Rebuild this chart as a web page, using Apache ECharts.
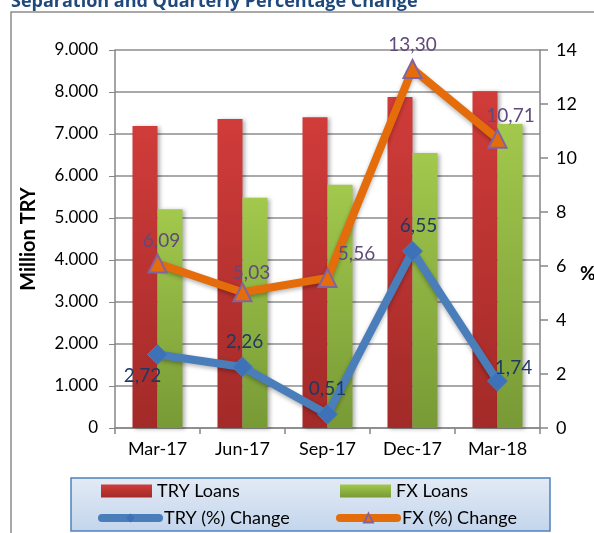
<!DOCTYPE html>
<html>
<head>
<meta charset="utf-8">
<script src="https://cdn.jsdelivr.net/npm/echarts@6/dist/echarts.min.js"></script>
<style>
  html, body { margin: 0; padding: 0; background: #fff; }
  #chart { width: 594px; height: 533px; }
</style>
</head>
<body>
<div id="chart"></div>
<script>
// quarters
const quarters = ['Mar-17', 'Jun-17', 'Sep-17', 'Dec-17', 'Mar-18'];
// loan stocks, million TRY
const tryLoans = [7190, 7360, 7400, 7880, 8020];
const fxLoans = [5210, 5480, 5790, 6550, 7240];
// quarterly change, %
const tryChange = [2.72, 2.26, 0.51, 6.55, 1.74];
const fxChange = [6.09, 5.03, 5.56, 13.30, 10.71];

// label placement for the percentage points
const tryLabelPos = [['bottom', [-15, -4]], ['top', [2, 0]], ['top', [0, 0]], ['top', [6, 0]], ['top', [16, 12]]];
const fxLabelPos = [['top', [4, 2]], ['top', [9, 5]], ['top', [29, 0]], ['top', [0, 0]], ['top', [13, 2]]];

const FONT = 'Lato';

const fmtThousand = v => String(v).replace(/\B(?=(\d{3})+(?!\d))/g, '.');
const fmtComma = v => v.toFixed(2).replace('.', ',');

function barGradient(top, bottom) {
  return new echarts.graphic.LinearGradient(0, 0, 0, 1, [
    { offset: 0, color: top },
    { offset: 1, color: bottom }
  ]);
}

function pctData(values, positions, color) {
  return values.map((v, i) => ({
    value: v,
    label: {
      show: true,
      position: positions[i][0],
      offset: positions[i][1],
      formatter: p => fmtComma(p.value),
      color: color,
      fontSize: 19,
      fontFamily: FONT
    }
  }));
}

const legendText = { fontSize: 18, fontFamily: FONT, color: '#000' };

const chart = echarts.init(document.getElementById('chart'));

const option = {
  backgroundColor: '#fff',
  animation: false,
  title: {
    text: 'Separation and Quarterly Percentage Change',
    left: 6,
    top: -12,
    textStyle: { color: '#1f497d', fontSize: 18, fontWeight: 'bold', fontFamily: 'Open Sans' }
  },
  graphic: [
    {
      type: 'rect',
      shape: { x: 11, y: 12, width: 600, height: 540 },
      style: { fill: 'none', stroke: '#8c8c8c', lineWidth: 1.5 },
      z: -10
    },
    {
      type: 'rect',
      shape: { x: 71, y: 478, width: 479, height: 53 },
      style: {
        fill: new echarts.graphic.LinearGradient(0, 0, 0, 1, [
          { offset: 0, color: '#e3ebf6' },
          { offset: 1, color: '#c3d5ec' }
        ]),
        stroke: '#4f81bd',
        lineWidth: 1.5
      },
      z: -5
    },
    {
      type: 'text',
      left: 580,
      top: 264,
      style: { text: '%', fill: '#000', font: 'bold 19px ' + FONT }
    }
  ],
  legend: [
    {
      data: ['TRY Loans'], left: 101, top: 482, icon: 'rect', padding: 0,
      itemWidth: 51, itemHeight: 13, textStyle: legendText
    },
    {
      data: ['FX Loans'], left: 340, top: 482, icon: 'rect', padding: 0,
      itemWidth: 51, itemHeight: 13, textStyle: legendText
    },
    {
      data: ['TRY (%) Change'], left: 98, top: 509, padding: 0,
      itemWidth: 57, itemHeight: 11, textStyle: legendText,
      lineStyle: { width: 8, cap: 'round' }, itemStyle: { borderWidth: 0 }
    },
    {
      data: ['FX (%) Change'], left: 336, top: 509, padding: 0,
      itemWidth: 57, itemHeight: 11, textStyle: legendText,
      lineStyle: { width: 8, cap: 'round' }
    }
  ],
  grid: { left: 115, right: 54, top: 50, bottom: 105 },
  xAxis: {
    type: 'category',
    data: quarters,
    axisLine: { lineStyle: { color: '#868686', width: 1.5 } },
    axisTick: { show: true, length: 6, lineStyle: { color: '#868686', width: 1.5 } },
    axisLabel: { color: '#000', fontSize: 18, fontFamily: FONT, margin: 12 }
  },
  yAxis: [
    {
      type: 'value',
      min: 0, max: 9000, interval: 1000,
      name: 'Million TRY',
      nameLocation: 'middle',
      nameGap: 76,
      nameTextStyle: { color: '#000', fontSize: 20, fontWeight: 'bold', fontFamily: FONT },
      axisLine: { show: true, lineStyle: { color: '#868686', width: 1.5 } },
      axisTick: { show: true, length: 6, lineStyle: { color: '#868686' } },
      axisLabel: { color: '#000', fontSize: 17, fontFamily: FONT, margin: 17, formatter: fmtThousand },
      splitLine: { lineStyle: { color: '#8c8c8c', width: 1.5 } }
    },
    {
      type: 'value',
      min: 0, max: 14, interval: 2,
      position: 'right',
      axisLine: { show: true, lineStyle: { color: '#868686', width: 1.5 } },
      axisTick: { show: true, inside: false, length: 8, lineStyle: { color: '#868686', width: 1.5 } },
      axisLabel: { color: '#000', fontSize: 18, fontFamily: FONT, margin: 16 },
      splitLine: { show: false }
    }
  ],
  series: [
    {
      name: 'TRY Loans',
      type: 'bar',
      data: tryLoans,
      barWidth: 25,
      barGap: '0%',
      itemStyle: {
        color: barGradient('#d03c3a', '#a22a28'),
        shadowBlur: 4, shadowColor: 'rgba(0,0,0,0.3)', shadowOffsetX: 2, shadowOffsetY: 1
      },
      z: 2
    },
    {
      name: 'FX Loans',
      type: 'bar',
      data: fxLoans,
      barWidth: 25,
      itemStyle: {
        color: barGradient('#a2c84c', '#789a36'),
        shadowBlur: 4, shadowColor: 'rgba(0,0,0,0.3)', shadowOffsetX: 2, shadowOffsetY: 1
      },
      z: 2
    },
    {
      name: 'TRY (%) Change',
      type: 'line',
      yAxisIndex: 1,
      data: pctData(tryChange, tryLabelPos, '#1f3864'),
      symbol: 'diamond',
      symbolSize: 20,
      lineStyle: { color: '#4a7ebb', width: 8, shadowBlur: 4, shadowColor: 'rgba(0,0,0,0.3)', shadowOffsetY: 2 },
      itemStyle: { color: '#3d72b8', borderColor: '#4a7ebb', borderWidth: 1 },
      z: 5
    },
    {
      name: 'FX (%) Change',
      type: 'line',
      yAxisIndex: 1,
      data: pctData(fxChange, fxLabelPos, '#604a7b'),
      symbol: 'triangle',
      symbolSize: 18,
      lineStyle: { color: '#e46c0a', width: 8, shadowBlur: 4, shadowColor: 'rgba(0,0,0,0.3)', shadowOffsetY: 2 },
      itemStyle: { color: '#e46c0a', borderColor: '#8064a2', borderWidth: 2 },
      z: 6
    }
  ]
};

chart.setOption(option);
</script>
</body>
</html>
